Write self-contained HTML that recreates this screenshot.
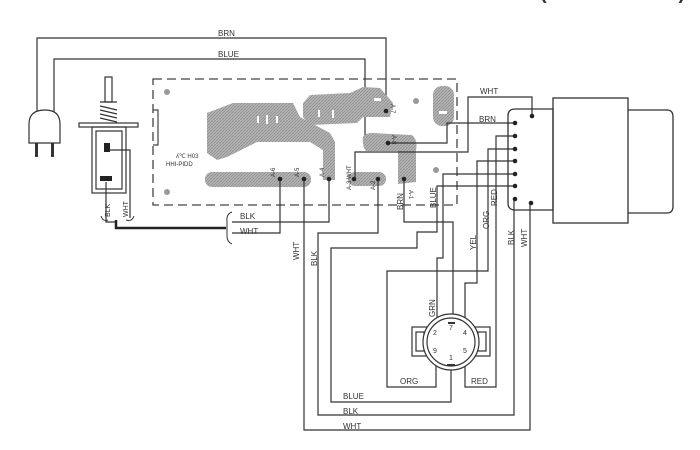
<!DOCTYPE html>
<html><head><meta charset="utf-8"><style>
html,body{margin:0;padding:0;background:#fff}
svg{display:block}
text{font-family:"Liberation Sans",sans-serif;fill:#333}
</style></head><body>
<svg width="700" height="450" viewBox="0 0 700 450" xmlns="http://www.w3.org/2000/svg">
<defs>
<pattern id="h" width="3" height="3" patternUnits="userSpaceOnUse"><rect width="3" height="3" fill="#b4b4b4"/><path d="M0,3L3,0" stroke="#8f8f8f" stroke-width="0.8"/></pattern>
</defs>
<text x="540" y="-1" font-size="20" font-weight="bold" fill="#777">( P T - O T O Z )</text>
<g fill="none" stroke="#333" stroke-width="1.2">
<polyline points="37,112 37,38 386,38 386,111"/>
<polyline points="54,112 54,59 365,59 365,142 387,142"/>
</g>
<rect x="153" y="79" width="304" height="126" fill="none" stroke="#444" stroke-width="1.3" stroke-dasharray="9,5"/>
<polyline points="153,110 158,110 158,145 153,145" fill="none" stroke="#444" stroke-width="1.2"/>
<g fill="url(#h)">
<path d="M207,113 L233,103 L293,103 L300,117 L330,133 L335,142 L335,180 L323,180 L323,150 L310,142 L257,142 L227,157 L217,160 L207,153Z"/>
<path d="M303,103 L310,95 L350,93 L363,87 L380,88 L393,103 L390,117 L363,117 L357,123 L310,125 L303,117Z"/>
<path d="M363,137 Q365,133 372,133 L412,135 Q418,140 416,150 L416,182 L398,184 L398,151 L366,151 Q362,146 363,137Z"/>
<rect x="205" y="172" width="106" height="15" rx="7"/>
<rect x="348" y="172" width="38" height="14" rx="7"/>
<rect x="433" y="86" width="21" height="40" rx="9"/>
</g>
<g fill="#fff"><rect x="257" y="116" width="2" height="7"/><rect x="266" y="115" width="2" height="9"/><rect x="276" y="116" width="2" height="7"/><rect x="318" y="110" width="2" height="7"/><rect x="332" y="110" width="2" height="8"/><rect x="374" y="98" width="7" height="3"/><rect x="439" y="111" width="8" height="3"/></g>
<g fill="#999"><circle cx="167" cy="92" r="3"/><circle cx="167" cy="192" r="3"/><circle cx="416" cy="101" r="3"/><circle cx="436" cy="170" r="3"/></g>
<text x="176" y="158" font-size="6" fill="#999">ʎ℃ H03</text>
<text x="166" y="166" font-size="6" fill="#999">HHI-PIDD</text>
<path d="M29,143 L29,124 Q29,110 45,110 Q60,110 60,124 L60,143 Z" fill="#fff" stroke="#333" stroke-width="1.2"/>
<rect x="35" y="143" width="3" height="14" fill="#333"/><rect x="51" y="143" width="3" height="14" fill="#333"/>
<g stroke="#333" stroke-width="1.2" fill="none">
<rect x="105" y="77" width="7" height="25"/>
<path d="M100,102 L117,102 M100,106 L117,110 M100,110 L117,114 M100,114 L117,118 M100,118 L117,122"/>
<rect x="79" y="123" width="59" height="4"/>
<rect x="92" y="127" width="34" height="66"/>
<rect x="96" y="131" width="26" height="58"/>
<polyline points="109,150 130,150 130,218"/>
<polyline points="106,182 106,222 116,222"/>
</g>
<rect x="104" y="143" width="6" height="9" fill="#222"/><rect x="100" y="176" width="12" height="5" fill="#222"/>
<text transform="translate(110,217) rotate(-90)" font-size="7">BLK</text>
<text transform="translate(128,217) rotate(-90)" font-size="7">WHT</text>
<path d="M101,216 Q103,222 108,220 M126,220 Q132,222 134,216" stroke="#333" fill="none"/>
<path d="M116,220 L116,228 L226,228" stroke="#222" stroke-width="2.5" fill="none"/>
<path d="M232,212 Q226,214 227,222 L227,236 Q227,242 232,244" stroke="#333" fill="none"/>
<text x="240" y="219" font-size="8">BLK</text>
<text x="240" y="234" font-size="8">WHT</text>
<g fill="none" stroke="#333" stroke-width="1.2">
<polyline points="232,222 329,222 329,179"/>
<polyline points="232,233 280,233 280,179"/>
<polyline points="304,179 304,430 530,430 530,203"/>
<polyline points="378,179 378,233 318,233 318,415 514,415 514,199"/>
<polyline points="515,186 437,186 437,232 417,232 417,248 331,248 331,402 451,402 451,365"/>
<polyline points="404,179 404,222 453,222 453,323"/>
<polyline points="515,123 447,123 447,143 388,143"/>
<polyline points="532,116 532,97 468,97 468,152 355,152 355,179"/>
<polyline points="515,136 496,136 496,387 465,387 465,357"/>
<polyline points="515,149 488,149 488,271 387,271 387,387 436,387 436,357"/>
<polyline points="515,161 477,161 477,283 465,283 465,328"/>
<polyline points="515,174 443,174 443,258 437,258 437,328"/>
</g>
<g fill="#222">
<circle cx="280" cy="179" r="2.3"/><circle cx="304" cy="179" r="2.3"/><circle cx="329" cy="179" r="2.3"/><circle cx="354" cy="179" r="2.3"/><circle cx="378" cy="179" r="2.3"/><circle cx="404" cy="179" r="2.3"/><circle cx="386" cy="111" r="2.3"/><circle cx="388" cy="143" r="2.3"/>
<circle cx="515" cy="123" r="2.3"/><circle cx="515" cy="136" r="2.3"/><circle cx="515" cy="149" r="2.3"/><circle cx="515" cy="161" r="2.3"/><circle cx="515" cy="174" r="2.3"/><circle cx="515" cy="186" r="2.3"/><circle cx="515" cy="199" r="2.3"/><circle cx="532" cy="116" r="2.3"/><circle cx="531" cy="203" r="2.3"/>
</g>
<g font-size="6">
<text transform="translate(275,177) rotate(-90)">A-6</text>
<text transform="translate(299,177) rotate(-90)">A-5</text>
<text transform="translate(324,177) rotate(-90)">A-4</text>
<text transform="translate(351,190) rotate(-90)">A-3 WHT</text>
<text transform="translate(375,190) rotate(-90)">A-2</text>
<text transform="translate(409,190) rotate(90)">A-1</text>
<text transform="translate(391,104) rotate(90)">A-7</text>
<text transform="translate(392,135) rotate(90)">A-8</text>
</g>
<g font-size="8">
<text x="218" y="36">BRN</text>
<text x="218" y="57">BLUE</text>
<text x="480" y="94">WHT</text>
<text x="479" y="122">BRN</text>
<text transform="translate(403,210) rotate(-90)">BRN</text>
<text transform="translate(436,208) rotate(-90)">BLUE</text>
<text transform="translate(299,260) rotate(-90)">WHT</text>
<text transform="translate(317,266) rotate(-90)">BLK</text>
<text transform="translate(476,250) rotate(-90)">YEL</text>
<text transform="translate(489,229) rotate(-90)">ORG</text>
<text transform="translate(497,206) rotate(-90)">RED</text>
<text transform="translate(514,245) rotate(-90)">BLK</text>
<text transform="translate(527,247) rotate(-90)">WHT</text>
<text transform="translate(435,317) rotate(-90)">GRN</text>
<text x="343" y="399">BLUE</text>
<text x="343" y="414">BLK</text>
<text x="343" y="429">WHT</text>
<text x="400" y="384">ORG</text>
<text x="471" y="384">RED</text>
</g>
<g fill="#fff" stroke="#333" stroke-width="1.2">
<rect x="412" y="327" width="78" height="29"/>
<rect x="416" y="332" width="8" height="19"/><rect x="478" y="332" width="8" height="19"/>
<circle cx="451" cy="342" r="28"/>
<circle cx="451" cy="342" r="24"/>
</g>
<g font-size="7">
<text x="449" y="330">7</text><text x="433" y="335">2</text><text x="463" y="335">4</text>
<text x="433" y="353">9</text><text x="463" y="353">5</text><text x="449" y="360">1</text>
</g>
<g fill="#333"><rect x="448" y="322" width="7" height="2"/><rect x="447" y="364" width="8" height="2"/></g>
<g fill="none" stroke="#333" stroke-width="1.3">
<path d="M515,109 L553,109 L553,210 L515,210 Q508,210 508,203 L508,116 Q508,109 515,109Z"/>
<rect x="553" y="98" width="75" height="125"/>
<path d="M628,110 L667,110 Q673,110 673,117 L673,206 Q673,213 667,213 L628,213"/>
</g>
</svg>
</body></html>
